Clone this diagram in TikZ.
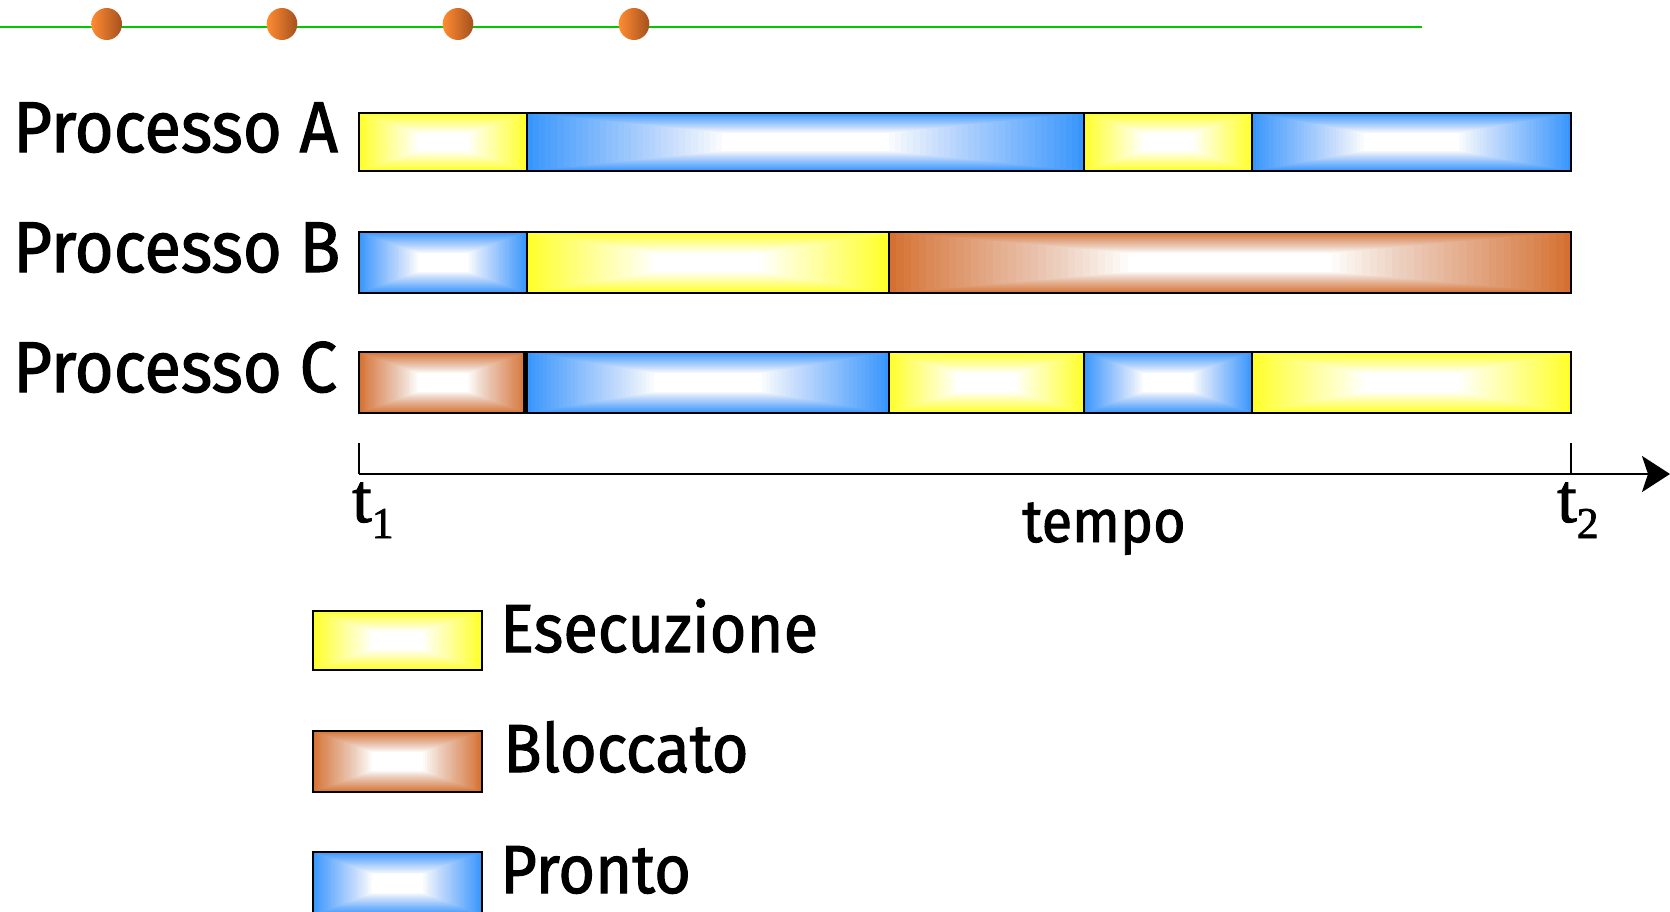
\documentclass[tikz,border=0pt]{standalone}
\usepackage{fontspec}
\setmainfont{Fira Sans}[FakeStretch=0.93,FakeBold=1.5]
\newfontfamily\tserif{Liberation Serif}[FakeBold=1.5]
\usetikzlibrary{arrows.meta}
\definecolor{cY}{RGB}{255,255,40}
\definecolor{cB}{RGB}{55,150,252}
\definecolor{cR}{RGB}{214,112,50}
\definecolor{cG}{RGB}{0,200,0}
\definecolor{dotL}{RGB}{255,140,50}
\definecolor{dotR}{RGB}{165,80,30}
\newcommand{\gseg}[5]{%
  \fill[#5] (#1,#3) rectangle (#2,#4);
  \foreach \k in {1,...,32}{%
    \pgfmathsetmacro{\f}{0.35*\k/32}%
    \pgfmathsetmacro{\cprev}{((\k-1)/32)^0.9}%
    \pgfmathsetmacro{\ccur}{(\k/32)^0.9}%
    \pgfmathsetmacro{\op}{min(1,(\ccur-\cprev)/(1-\cprev))}%
    \fill[white,opacity=\op] ({#1+(#2-#1)*\f},{#3+(#4-#3)*\f}) rectangle ({#2-(#2-#1)*\f},{#4-(#4-#3)*\f});
  }%
}
\tikzset{
  lab/.style={font=\fontsize{72}{72}\selectfont, inner sep=0pt, anchor=base west},
  leg/.style={font=\fontsize{68}{68}\selectfont, inner sep=0pt, anchor=base west},
  barline/.style={draw=black, line width=2.2pt},
  axisline/.style={line width=2.5pt}
}
\begin{document}
\begin{tikzpicture}[x=1pt,y=-1pt]
\useasboundingbox (0,0) rectangle (1670,911);
\fill[white] (0,0) rectangle (1670,911);
% top decoration
\draw[cG, line width=2.2pt] (0,26.7) -- (1422,26.7);
\foreach \cx in {106.7,282,458,634}{
  \shade[left color=dotL, right color=dotR] (\cx,24) ellipse [x radius=15.3, y radius=16];
}
% labels
\node[lab] (pa) at (13,152) {Processo A};
\node[lab] (pb) at (13,272) {Processo B};
\node[lab] (pc) at (13,392) {Processo C};
% Row A
\gseg{359}{527}{113}{171}{cY}
\gseg{527}{1084}{113}{171}{cB}
\gseg{1084}{1252}{113}{171}{cY}
\gseg{1252}{1571}{113}{171}{cB}
\draw[barline] (359,113) rectangle (1571,171);
\foreach \xx in {527,1084,1252}{\draw[barline] (\xx,113) -- (\xx,171);}
% Row B
\gseg{359}{527}{232}{293}{cB}
\gseg{527}{889}{232}{293}{cY}
\gseg{889}{1571}{232}{293}{cR}
\draw[barline] (359,232) rectangle (1571,293);
\foreach \xx in {527,889}{\draw[barline] (\xx,232) -- (\xx,293);}
% Row C
\gseg{359}{527}{352}{413}{cR}
\gseg{527}{889}{352}{413}{cB}
\gseg{889}{1084}{352}{413}{cY}
\gseg{1084}{1252}{352}{413}{cB}
\gseg{1252}{1571}{352}{413}{cY}
\draw[barline] (359,352) rectangle (1571,413);
\foreach \xx in {527,889,1084,1252}{\draw[barline] (\xx,352) -- (\xx,413);}
\draw[black, line width=4pt] (525,352) -- (525,413);
% axis
\coordinate (a0) at (359,474);
\coordinate (a1) at (1670,474);
\coordinate (t1top) at (359,443);
\coordinate (t2top) at (1571,443);
\coordinate (t2bot) at (1571,474);
\draw[axisline, -{Stealth[length=28pt,width=36pt,inset=6pt]}] (a0) -- (a1);
\draw[axisline] (t1top) -- (a0);
\draw[axisline] (t2top) -- (t2bot);
\node[inner sep=0pt, anchor=base west] (t1) at (352,522) {\tserif\fontsize{70}{70}\selectfont t\raisebox{-16pt}{\fontsize{44}{44}\selectfont 1}};
\node[inner sep=0pt, anchor=base west] (t2) at (1557,522) {\tserif\fontsize{70}{70}\selectfont t\raisebox{-16pt}{\fontsize{44}{44}\selectfont 2}};
\node[inner sep=0pt, anchor=base, font=\fontsize{60}{60}\selectfont] (tempo) at (1104,542) {tempo};
% legend
\gseg{313}{482}{611}{670}{cY}
\draw[barline] (313,611) rectangle (482,670);
\gseg{313}{482}{731}{792}{cR}
\draw[barline] (313,731) rectangle (482,792);
\gseg{313}{482}{852}{915}{cB}
\draw[barline] (313,852) rectangle (482,915);
\node[leg] (le) at (500,652) {Esecuzione};
\node[leg] (lb) at (503,772) {Bloccato};
\node[leg] (lp) at (500,893) {Pronto};
\end{tikzpicture}
\end{document}
